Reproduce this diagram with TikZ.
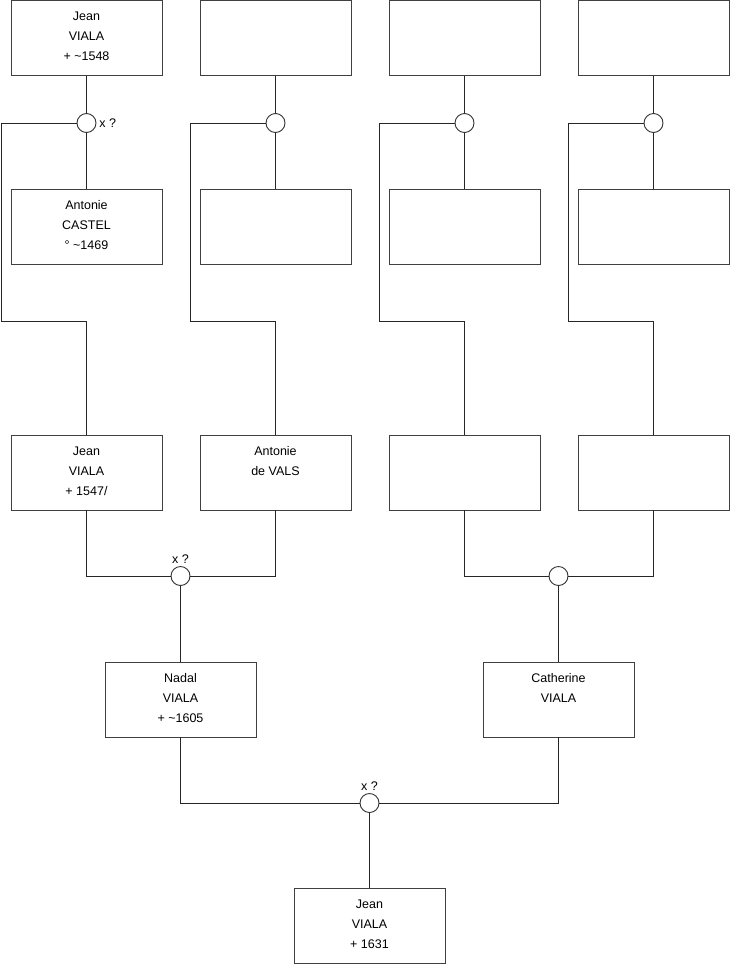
\documentclass[tikz,border=0pt]{standalone}
\usepackage{fontspec}
\setmainfont{Liberation Sans}
\begin{document}
\begin{tikzpicture}[x=1pt,y=-1pt,
  line width=0.9pt,
  box/.style={draw=black!75, rectangle, inner sep=0pt, minimum width=151pt, minimum height=75pt, font=\fontsize{12.5}{20}\selectfont},
  ring/.style={draw=black!80, fill=white, circle, inner sep=0pt, minimum size=19pt},
  lab/.style={inner sep=0pt, font=\fontsize{12.5}{15}\selectfont},
  wire/.style={draw=black!85}]
\newcommand{\boxtext}[1]{\begin{minipage}[c][75pt][t]{151pt}\centering\rule{0pt}{20pt}#1\end{minipage}}
\useasboundingbox (0,0) rectangle (740,975);
% row 1
\node[box] (a1) at (86.5,38) {\boxtext{Jean\\VIALA\\+ \textasciitilde1548}};
\node[box] (a2) at (275.5,38) {\boxtext{}};
\node[box] (a3) at (464.5,38) {\boxtext{}};
\node[box] (a4) at (653.5,38) {\boxtext{}};
% row 2
\node[box] (b1) at (86.5,227) {\boxtext{Antonie\\CASTEL\\° \textasciitilde1469}};
\node[box] (b2) at (275.5,227) {\boxtext{}};
\node[box] (b3) at (464.5,227) {\boxtext{}};
\node[box] (b4) at (653.5,227) {\boxtext{}};
% row 3
\node[box] (c1) at (86.5,472.5) {\boxtext{Jean\\VIALA\\+ 1547/}};
\node[box] (c2) at (275.5,472.5) {\boxtext{Antonie\\de VALS}};
\node[box] (c3) at (464.5,472.5) {\boxtext{}};
\node[box] (c4) at (653.5,472.5) {\boxtext{}};
% row 4
\node[box] (d1) at (180.5,699.5) {\boxtext{Nadal\\VIALA\\+ \textasciitilde1605}};
\node[box] (d2) at (558.5,699.5) {\boxtext{Catherine\\VIALA}};
% row 5
\node[box] (e1) at (369.5,925.5) {\boxtext{Jean\\VIALA\\+ 1631}};
% marriage circles
\node[ring] (m1) at (86.5,123) {};
\node[ring] (m2) at (275.5,123) {};
\node[ring] (m3) at (464.5,123) {};
\node[ring] (m4) at (653.5,123) {};
\node[ring] (n1) at (180.5,576) {};
\node[ring] (n2) at (558.5,576) {};
\node[ring] (p1) at (369.5,803) {};
% labels
\node[lab, anchor=west] (x1) at (99,123) {x ?};
\node[lab] (x2) at (180.5,559) {x ?};
\node[lab] (x3) at (369.5,786) {x ?};
% bend points
\coordinate (k1) at (1,321);
\coordinate (k2) at (190,321);
\coordinate (k3) at (379,321);
\coordinate (k4) at (568,321);
% connectors top part
\foreach \i in {1,2,3,4}{
  \draw[wire] (a\i) -- (m\i);
  \draw[wire] (m\i) -- (b\i);
  \draw[wire] (m\i.west) -| (k\i) -| (c\i.north);
}
\draw[wire] (c1.south) |- (n1.west);
\draw[wire] (c2.south) |- (n1.east);
\draw[wire] (c3.south) |- (n2.west);
\draw[wire] (c4.south) |- (n2.east);
\draw[wire] (n1) -- (d1);
\draw[wire] (n2) -- (d2);
\draw[wire] (d1.south) |- (p1.west);
\draw[wire] (d2.south) |- (p1.east);
\draw[wire] (p1) -- (e1);
\end{tikzpicture}
\end{document}
